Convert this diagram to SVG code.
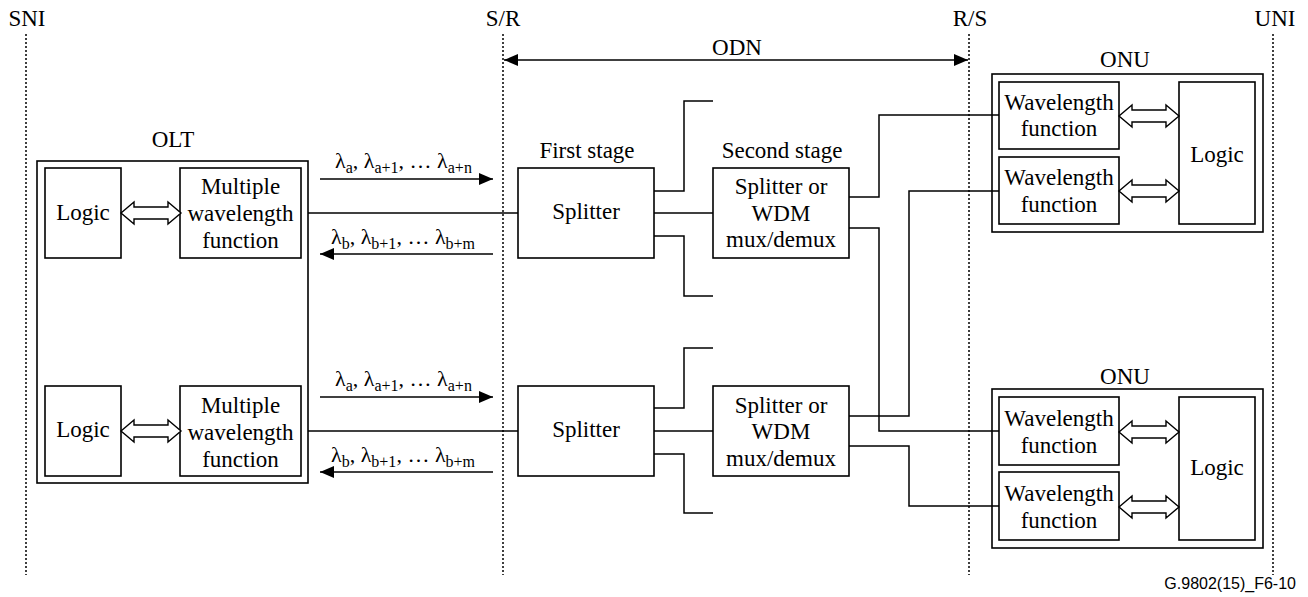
<svg xmlns="http://www.w3.org/2000/svg" width="1308" height="597" viewBox="0 0 1308 597">
<style>
text{font-family:"Liberation Serif","Times New Roman",serif;font-size:23px;fill:#000;text-anchor:middle}
.box{fill:none;stroke:#000;stroke-width:1.6}
.ln{fill:none;stroke:#000;stroke-width:1.5}
.dot{fill:none;stroke:#000;stroke-width:1.5;stroke-dasharray:2 2}
.dbl{fill:#fff;stroke:#000;stroke-width:1.4}
.lam{text-anchor:start;font-size:22px}
.sub{font-size:16px}
.note{font-family:"Liberation Sans",Arial,sans-serif;font-size:16px;text-anchor:end}
</style>
<defs>
<marker id="ah" viewBox="0 0 14 12" refX="14" refY="6" markerWidth="14" markerHeight="12" markerUnits="userSpaceOnUse" orient="auto-start-reverse">
<path d="M0,0 L14,6 L0,12 Z" fill="#000"/>
</marker>
<path id="dblarrow" class="dbl" d="M0,0 l13,-11 v5 h34 v-5 l13,11 l-13,11 v-5 h-34 v5 z"/>
</defs>
<rect width="1308" height="597" fill="#fff"/>

<g id="reference-lines">
<line class="dot" x1="26" y1="34" x2="26" y2="575"/>
<line class="dot" x1="503" y1="34" x2="503" y2="575"/>
<line class="dot" x1="969" y1="34" x2="969" y2="575"/>
<line class="dot" x1="1273" y1="34" x2="1273" y2="575"/>
<text x="27" y="26">SNI</text>
<text x="503" y="26">S/R</text>
<text x="970" y="26">R/S</text>
<text x="1275" y="26">UNI</text>
</g>

<g id="odn">
<line class="ln" x1="504" y1="60" x2="968" y2="60" marker-start="url(#ah)" marker-end="url(#ah)"/>
<text x="737" y="55">ODN</text>
</g>

<g id="olt">
<text x="173" y="147">OLT</text>
<rect class="box" x="37" y="161" width="271" height="322"/>
</g>

<g id="olt-logic-1">
<rect class="box" x="45" y="168" width="76" height="90"/>
<text x="83" y="220">Logic</text>
</g>
<g id="olt-mwf-1">
<rect class="box" x="180" y="168" width="121" height="90"/>
<text x="240.5" y="194">Multiple</text>
<text x="240.5" y="221">wavelength</text>
<text x="240.5" y="248">function</text>
</g>
<g id="olt-logic-2">
<rect class="box" x="45" y="386" width="76" height="90"/>
<text x="83" y="437">Logic</text>
</g>
<g id="olt-mwf-2">
<rect class="box" x="180" y="386" width="121" height="90"/>
<text x="240.5" y="413">Multiple</text>
<text x="240.5" y="440">wavelength</text>
<text x="240.5" y="467">function</text>
</g>

<g id="splitter-1">
<text x="587" y="158">First stage</text>
<rect class="box" x="518" y="168" width="136" height="90"/>
<text x="586" y="219">Splitter</text>
</g>
<g id="stage2-1">
<text x="782" y="158">Second stage</text>
<rect class="box" x="713" y="168" width="136" height="90"/>
<text x="781" y="194">Splitter or</text>
<text x="781" y="221">WDM</text>
<text x="781" y="247">mux/demux</text>
</g>
<g id="splitter-2">
<rect class="box" x="518" y="386" width="136" height="90"/>
<text x="586" y="437">Splitter</text>
</g>
<g id="stage2-2">
<rect class="box" x="713" y="386" width="136" height="90"/>
<text x="781" y="413">Splitter or</text>
<text x="781" y="439">WDM</text>
<text x="781" y="466">mux/demux</text>
</g>

<g id="onu-1">
<text x="1125" y="67">ONU</text>
<rect class="box" x="992" y="74" width="271" height="158"/>
<rect class="box" x="999" y="82" width="120" height="67"/>
<text x="1059" y="110">Wavelength</text>
<text x="1059" y="136">function</text>
<rect class="box" x="999" y="157" width="120" height="67"/>
<text x="1059" y="185">Wavelength</text>
<text x="1059" y="212">function</text>
<rect class="box" x="1179" y="82" width="76" height="142"/>
<text x="1217" y="162">Logic</text>
</g>
<g id="onu-2">
<text x="1125" y="384">ONU</text>
<rect class="box" x="992" y="389" width="271" height="159"/>
<rect class="box" x="999" y="397" width="120" height="68"/>
<text x="1059" y="426">Wavelength</text>
<text x="1059" y="453">function</text>
<rect class="box" x="999" y="472" width="120" height="68"/>
<text x="1059" y="501">Wavelength</text>
<text x="1059" y="528">function</text>
<rect class="box" x="1179" y="397" width="76" height="143"/>
<text x="1217" y="475">Logic</text>
</g>

<g id="connectors">
<use href="#dblarrow" x="121" y="213"/>
<use href="#dblarrow" x="121" y="431"/>
<use href="#dblarrow" x="1119" y="116"/>
<use href="#dblarrow" x="1119" y="191"/>
<use href="#dblarrow" x="1119" y="432"/>
<use href="#dblarrow" x="1119" y="507"/>

<line class="ln" x1="308" y1="213" x2="518" y2="213"/>
<line class="ln" x1="308" y1="431" x2="518" y2="431"/>

<line class="ln" x1="320" y1="179" x2="493" y2="179" marker-end="url(#ah)"/>
<line class="ln" x1="320" y1="254" x2="493" y2="254" marker-start="url(#ah)"/>
<line class="ln" x1="320" y1="397" x2="493" y2="397" marker-end="url(#ah)"/>
<line class="ln" x1="320" y1="472" x2="493" y2="472" marker-start="url(#ah)"/>

<text class="lam" x="335" y="168">λ<tspan class="sub" dy="5">a</tspan><tspan dy="-5">, λ</tspan><tspan class="sub" dy="5">a+1</tspan><tspan dy="-5">, … λ</tspan><tspan class="sub" dy="5">a+n</tspan></text>
<text class="lam" x="331" y="244">λ<tspan class="sub" dy="5">b</tspan><tspan dy="-5">, λ</tspan><tspan class="sub" dy="5">b+1</tspan><tspan dy="-5">, … λ</tspan><tspan class="sub" dy="5">b+m</tspan></text>
<text class="lam" x="335" y="386">λ<tspan class="sub" dy="5">a</tspan><tspan dy="-5">, λ</tspan><tspan class="sub" dy="5">a+1</tspan><tspan dy="-5">, … λ</tspan><tspan class="sub" dy="5">a+n</tspan></text>
<text class="lam" x="331" y="462">λ<tspan class="sub" dy="5">b</tspan><tspan dy="-5">, λ</tspan><tspan class="sub" dy="5">b+1</tspan><tspan dy="-5">, … λ</tspan><tspan class="sub" dy="5">b+m</tspan></text>

<polyline class="ln" points="654,191 684,191 684,101 713,101"/>
<line class="ln" x1="654" y1="213" x2="713" y2="213"/>
<polyline class="ln" points="654,236 684,236 684,296 713,296"/>
<polyline class="ln" points="654,408 684,408 684,348 713,348"/>
<line class="ln" x1="654" y1="431" x2="713" y2="431"/>
<polyline class="ln" points="654,454 684,454 684,513 713,513"/>

<polyline class="ln" points="849,197 879,197 879,115 999,115"/>
<polyline class="ln" points="849,228 879,228 879,431 999,431"/>
<polyline class="ln" points="849,416 909,416 909,191 999,191"/>
<polyline class="ln" points="849,446 909,446 909,506 999,506"/>
</g>

<text class="note" x="1296" y="589">G.9802(15)_F6-10</text>
</svg>
